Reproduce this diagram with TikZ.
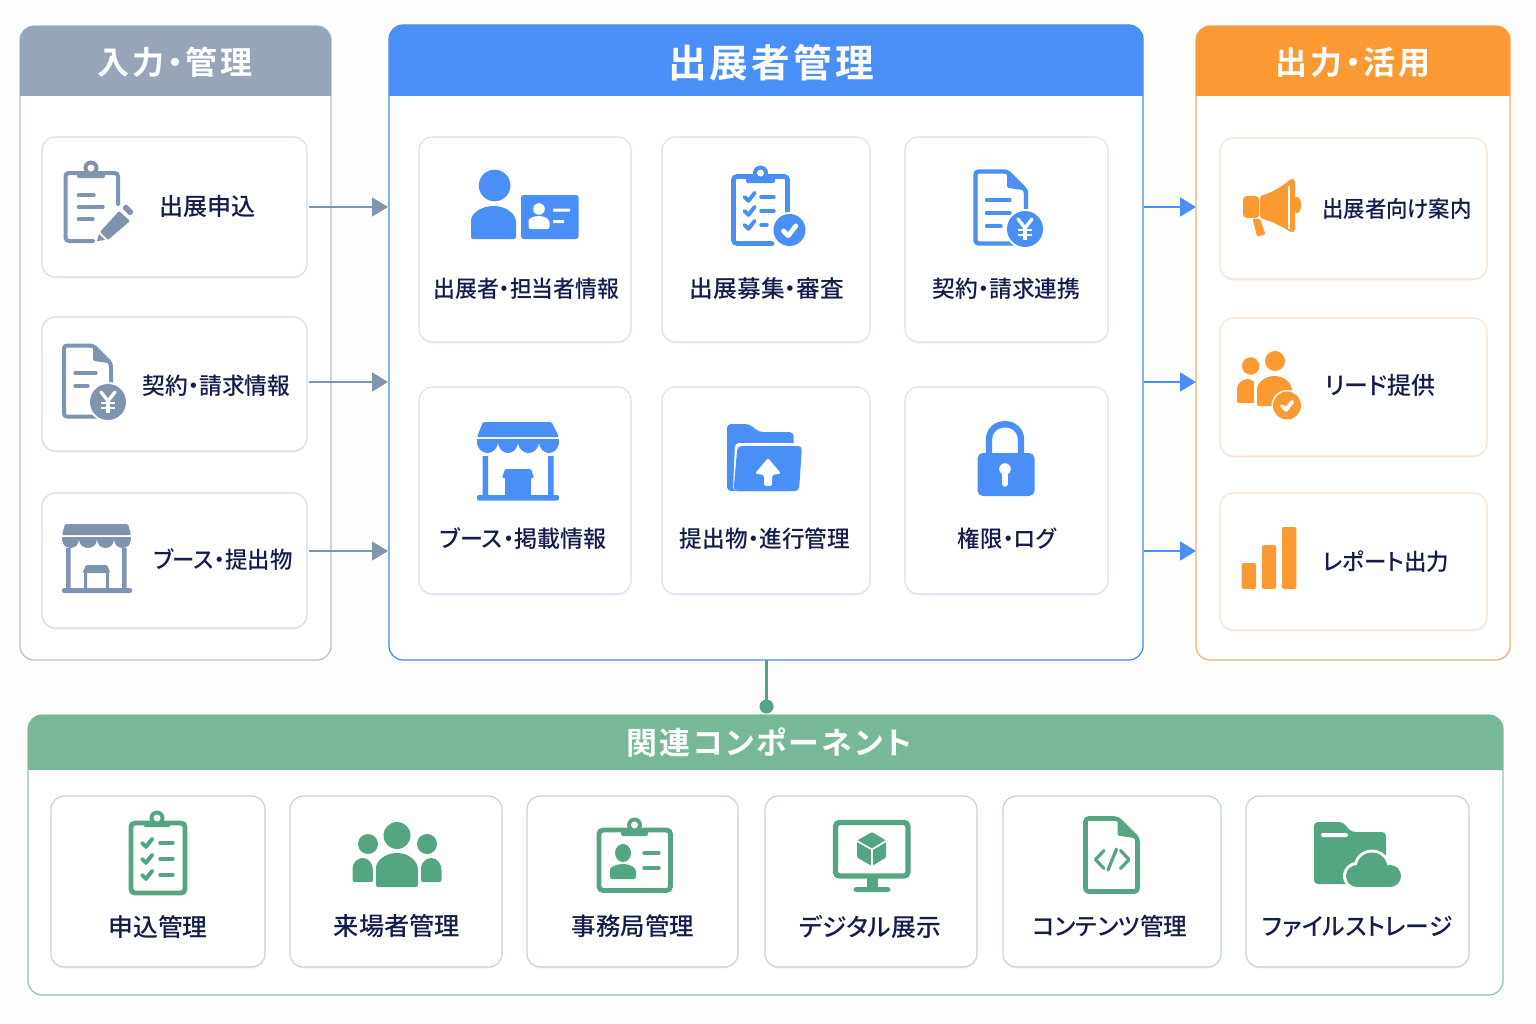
\documentclass[tikz,border=0pt]{standalone}
\usepackage{fontspec}
\usepackage{graphicx}
\usetikzlibrary{arrows.meta,shadows}
\setmainfont{Noto Sans CJK JP Medium}[RawFeature={+palt}]
\newfontfamily\jphead{Noto Sans CJK JP Bold}[RawFeature={+palt},LetterSpace=8]
\definecolor{bgc}{HTML}{FDFDFE}
\definecolor{navy}{HTML}{141C4A}
\definecolor{gr}{HTML}{7F94AF}
\definecolor{grh}{HTML}{98A5B9}
\definecolor{grb}{HTML}{B5BFD3}
\definecolor{grc}{HTML}{D3DAE8}
\definecolor{bl}{HTML}{4A8FF5}
\definecolor{blb}{HTML}{3F8AEC}
\definecolor{blc}{HTML}{D3E0F5}
\definecolor{og}{HTML}{FB9A33}
\definecolor{ogb}{HTML}{F2AE6C}
\definecolor{ogc}{HTML}{FBDFC8}
\definecolor{gn}{HTML}{54A582}
\definecolor{gnh}{HTML}{76B897}
\definecolor{gnb}{HTML}{8CC5AC}
\definecolor{gnc}{HTML}{BFD5CE}
\tikzset{
  panelbox/.style={draw,fill=white,rounded corners=10.5pt,line width=.9pt,inner sep=0pt},
  cardbox/.style={draw,fill=white,rounded corners=10pt,line width=.8pt,inner sep=0pt,
    drop shadow={shadow xshift=0pt,shadow yshift=-1.2pt,opacity=.05,fill=navy}},
  lab/.style={inner sep=0pt,text=navy,font=\fontsize{17.3}{20}\selectfont},
  headt/.style={inner sep=0pt,text=white},
  arrg/.style={draw=gr,line width=2.2pt,-{Triangle[length=12pt,width=14pt,fill=gr]}},
  arrb/.style={draw=bl,line width=2.2pt,-{Triangle[length=12pt,width=14pt,fill=bl]}},
  rl/.style={line cap=round,line join=round},
}
\newcommand\boxnode[6]{\node[#1,minimum width={(#4-#2)*0.75pt},minimum height={(#5-#3)*0.75pt}] (#6) at ({(#2+#4)/2},{(#3+#5)/2}) {};}
\newcommand\hdr[5]{\fill[#5] (#1,#4) -- (#1,#2+20) [rounded corners=10.5pt] -- (#1,#2) -- (#3,#2) -- (#3,#2+20) [sharp corners] -- (#3,#4) -- cycle;}
\newcommand\lb[6]{\node[lab] (#1) at ({#2},{#3+0.7}) {\scalebox{#4}[#5]{#6}};}
\newcommand\ckm[4]{\draw[#3,rl,line width=#4*0.42pt] ({#1-#4*.7},{#2}) -- ({#1-#4*.15},{#2+#4*.55}) -- ({#1+#4*.75},{#2-#4*.6});}
\newcommand\dome[5]{%
  \pgfmathsetmacro\dm{(#1+#3)/2}\pgfmathsetmacro\dy{#2+(#4-#2)*.5}%
  \pgfmathsetmacro\dcy{\dy-(\dy-#2)*.55}\pgfmathsetmacro\dal{\dm-(\dm-#1)*.55}\pgfmathsetmacro\dar{\dm+(#3-\dm)*.55}%
  \fill[#5] (#1,\dy) .. controls (#1,\dcy) and (\dal,#2) .. (\dm,#2) .. controls (\dar,#2) and (#3,\dcy) .. (#3,\dy) [rounded corners=1.5pt] -- (#3,#4) -- (#1,#4) -- (#1,\dy) -- cycle;}
\newcommand\docs[7]{%
  \draw[#6,line width=#7,rounded corners=2.2pt,line join=round] ({#3-#5},#2) -- (#1,#2) -- (#1,#4) -- (#3,#4) -- (#3,{#2+#5}) -- cycle;
  \fill[#6,rounded corners=1pt] ({#3-#5},#2) -- ({#3-#5},{#2+#5*.85}) -- (#3,{#2+#5}) -- cycle;}
\newcommand\yenc[4]{%
  \fill[white] (#1,#2) circle ({#3+2});
  \fill[#4] (#1,#2) circle (#3);
  \draw[white,line width=2.5pt,rl] ({#1-7},{#2-10}) -- (#1,{#2-1}) -- ({#1+7},{#2-10});
  \draw[white,line width=2.5pt] (#1,{#2-1}) -- (#1,{#2+11});
  \draw[white,line width=2pt] ({#1-7},{#2+1}) -- ({#1+7},{#2+1}) ({#1-7},{#2+6}) -- ({#1+7},{#2+6});}
\newcommand\clipb[6]{%
  \fill[#6] (#1,#2) circle (7.5);
  \fill[white] (#1,#2) circle (3.5);
  \fill[#6,rounded corners=1.5pt] ({#1-#3},{#2+#4}) -- ({#1-#3},{#2+#5}) -- ({#1+#3},{#2+#5}) -- ({#1+#3},{#2+#4}) -- cycle;}
\newcommand\scall[5]{%
  \foreach \i in {0,1,2,3}{%
    \pgfmathsetmacro\sa{#1+\i*(#2-#1)/4}\pgfmathsetmacro\sb{\sa+(#2-#1)/4}%
    \fill[#5] (\sa,#3) .. controls (\sa,{#3+#4*1.3}) and (\sb,{#3+#4*1.3}) .. (\sb,#3) -- cycle;}}
\begin{document}
\begin{tikzpicture}[x=0.75pt,y=-0.75pt]
\useasboundingbox (0,0) rectangle (1536,1024);
\fill[bgc] (0,0) rectangle (1536,1024);

% ---------- panels ----------
\boxnode{panelbox,draw=grb}{20}{26}{331}{660}{pin}
\boxnode{panelbox,draw=blb}{389}{25}{1143}{660}{pmain}
\boxnode{panelbox,draw=ogb}{1196}{26}{1510}{660}{pout}
\boxnode{panelbox,draw=gnb}{28}{715}{1503}{995}{pcomp}
\hdr{20}{26}{331}{96}{grh}
\hdr{389}{25}{1143}{96}{bl}
\hdr{1196}{26}{1510}{96}{og}
\hdr{28}{715}{1503}{770}{gnh}
\node[headt,font={\jphead\fontsize{24}{28}\selectfont}] (tin) at (175,62.5) {入力・管理};
\node[headt,font={\jphead\fontsize{29}{32}\selectfont}] (tmain) at (771,62.5) {出展者管理};
\node[headt,font={\jphead\fontsize{24}{28}\selectfont}] (tout) at (1353,62.5) {出力・活用};
\node[headt,font={\jphead\fontsize{23.2}{26}\selectfont}] (tcomp) at (769,742.5) {関連コンポーネント};

% ---------- cards ----------
\boxnode{cardbox,draw=grc}{42}{137}{307}{277}{ci1}
\boxnode{cardbox,draw=grc}{42}{317}{307}{451}{ci2}
\boxnode{cardbox,draw=grc}{42}{493}{307}{628}{ci3}
\boxnode{cardbox,draw=blc}{419}{137}{631}{342}{cm1}
\boxnode{cardbox,draw=blc}{662}{137}{870}{342}{cm2}
\boxnode{cardbox,draw=blc}{905}{137}{1108}{342}{cm3}
\boxnode{cardbox,draw=blc}{419}{387}{631}{594}{cm4}
\boxnode{cardbox,draw=blc}{662}{387}{870}{594}{cm5}
\boxnode{cardbox,draw=blc}{905}{387}{1108}{594}{cm6}
\boxnode{cardbox,draw=ogc}{1220}{138}{1487}{279}{co1}
\boxnode{cardbox,draw=ogc}{1220}{318}{1487}{456}{co2}
\boxnode{cardbox,draw=ogc}{1220}{493}{1487}{630}{co3}
\boxnode{cardbox,draw=gnc}{51}{796}{265}{967}{cc1}
\boxnode{cardbox,draw=gnc}{290}{796}{502}{967}{cc2}
\boxnode{cardbox,draw=gnc}{527}{796}{738}{967}{cc3}
\boxnode{cardbox,draw=gnc}{765}{796}{977}{967}{cc4}
\boxnode{cardbox,draw=gnc}{1003}{796}{1221}{967}{cc5}
\boxnode{cardbox,draw=gnc}{1246}{796}{1469}{967}{cc6}

% ---------- labels ----------
\lb{li1}{207.5}{206}{1.044}{1.04}{出展申込}
\lb{li2}{216.5}{385}{.987}{1}{契約・請求情報}
\lb{li3}{223}{559}{.972}{1}{ブース・提出物}
\lb{lm1}{526.5}{288}{.949}{1}{出展者・担当者情報}
\lb{lm2}{767}{288}{1.03}{1.02}{出展募集・審査}
\lb{lm3}{1006.5}{288}{.987}{1}{契約・請求連携}
\lb{lm4}{523.5}{538}{1}{1}{ブース・掲載情報}
\lb{lm5}{765}{538}{.983}{1}{提出物・進行管理}
\lb{lm6}{1007}{538}{.97}{1}{権限・ログ}
\lb{lo1}{1397}{208}{.93}{.98}{出展者向け案内}
\lb{lo2}{1380.5}{385}{1.04}{1.04}{リード提供}
\lb{lo3}{1386}{561}{.976}{1}{レポート出力}
\lb{lc1}{158}{926}{1.077}{1.07}{申込管理}
\lb{lc2}{397}{925}{1.095}{1.08}{来場者管理}
\lb{lc3}{633}{925}{1.06}{1.06}{事務局管理}
\lb{lc4}{870}{926}{1.077}{1.07}{デジタル展示}
\lb{lc5}{1110}{926}{1.026}{1.04}{コンテンツ管理}
\lb{lc6}{1357.5}{926}{1.033}{1.04}{ファイルストレージ}

% ---------- connectors ----------
\coordinate (ai1) at (309,207); \coordinate (bi1) at (388,207);
\coordinate (ai2) at (309,382); \coordinate (bi2) at (388,382);
\coordinate (ai3) at (309,551); \coordinate (bi3) at (388,551);
\coordinate (ao1) at (1144,207); \coordinate (bo1) at (1196,207);
\coordinate (ao2) at (1144,382); \coordinate (bo2) at (1196,382);
\coordinate (ao3) at (1144,551); \coordinate (bo3) at (1196,551);
\draw[arrg] (ai1) -- (bi1);
\draw[arrg] (ai2) -- (bi2);
\draw[arrg] (ai3) -- (bi3);
\draw[arrb] (ao1) -- (bo1);
\draw[arrb] (ao2) -- (bo2);
\draw[arrb] (ao3) -- (bo3);
\node[circle,fill=gn,inner sep=0pt,minimum size=10.5pt] (dot) at (766.5,706.5) {};
\draw[gn,line width=2pt] (766.5,660) -- (dot.center);

% ---------- icons: input ----------
\draw[gr,line width=3pt,rounded corners=2.5pt,line cap=round] (118,204) -- (118,173) -- (65.5,173) -- (65.5,241) -- (93,241);
\clipb{91}{168}{14}{4}{10}{gr}
\draw[gr,line width=2.6pt,rl] (78.5,195) -- (94,195) (78.5,207) -- (103,207) (78.5,219) -- (93,219);
\fill[gr,rounded corners=.8pt] (119,211) -- (130,221) -- (108,240) -- (100,232) -- cycle;
\fill[gr] (99,234) -- (97,241) -- (105,240) -- cycle;
\fill[gr,rounded corners=1.5pt] (122,208) -- (126,204) -- (134,212) -- (130,216) -- cycle;

\docs{64}{345.5}{111}{416.5}{18}{gr}{3pt}
\draw[gr,line width=2.4pt,rl] (75,373) -- (96,373) (75,386) -- (88,386);
\yenc{108}{402}{18}{gr}

\fill[gr,rounded corners=1pt] (65,524) -- (128,524) -- (131,535) -- (62,535) -- cycle;
\fill[gr] (62,537) rectangle (131,539);
\scall{62}{131}{539}{9}{gr}
\fill[gr] (66,548) rectangle (70.5,590) (122,548) rectangle (126.5,590);
\fill[gr,rounded corners=1.5pt] (62,588) rectangle (132,593);
\fill[gr,rounded corners=1pt] (86,565) -- (107,565) -- (110.5,573) -- (82.5,573) -- cycle;
\fill[gr] (84,573) rectangle (87,590) (106,573) rectangle (109,590);

% ---------- icons: main ----------
\fill[bl] (494.6,185.5) circle (15.8);
\dome{471}{206}{516}{239}{bl}
\fill[bl,rounded corners=2pt] (521,195) rectangle (578.6,239);
\fill[white] (539,209) circle (5.8);
\dome{528.5}{216}{549.5}{229}{white}
\fill[white] (553,208.5) rectangle (570,211.5) (553,220) rectangle (564,223);

\draw[bl,line width=3.5pt,rounded corners=2.5pt,line cap=round] (787.5,218) -- (787.5,176.5) -- (733.5,176.5) -- (733.5,243.5) -- (772,243.5);
\clipb{760.5}{173}{14.5}{4}{10}{bl}
\ckm{749.5}{197}{bl}{7}
\ckm{749.5}{211}{bl}{7}
\ckm{749.5}{225}{bl}{7}
\draw[bl,line width=2.6pt,rl] (761,197) -- (774,197) (761,211) -- (774,211) (761,225) -- (767,225);
\fill[white] (789.5,230) circle (18);
\fill[bl] (789.5,230) circle (16);
\ckm{789.5}{231}{white}{8.5}

\docs{975.5}{171.5}{1026}{243.5}{19}{bl}{3.3pt}
\draw[bl,line width=2.6pt,rl] (986.5,200) -- (1010,200) (986.5,213) -- (1010,213) (986.5,226) -- (1001,226);
\yenc{1025}{229}{18}{bl}

\fill[bl,rounded corners=1pt] (483,422) -- (551.5,422) -- (559,437) -- (477,437) -- cycle;
\fill[bl] (477,439) rectangle (559,441);
\scall{477}{559}{441}{12}{bl}
\fill[bl] (482.5,456) rectangle (488,497) (548,456) rectangle (553.5,497);
\fill[bl,rounded corners=1.5pt] (477,495) rectangle (559,500.5);
\fill[bl,rounded corners=1pt] (505,469) -- (531,469) -- (534,478) -- (502,478) -- cycle;
\fill[bl] (505,478) rectangle (531,496);

\fill[bl,rounded corners=3pt] (727,491) -- (727,424) -- (749,424) -- (759,432) -- (793.5,432) -- (793.5,491) -- cycle;
\fill[white,rounded corners=3pt] (733,491) -- (735,443) -- (796,443) -- (796,491) -- cycle;
\fill[bl,rounded corners=3pt] (733.5,491) -- (737.5,446) -- (802,446) -- (799,491) -- cycle;
\fill[white,rounded corners=1.2pt] (768,458) -- (781,473.5) -- (772,475) -- (772,486) -- (764,486) -- (764,475) -- (755,473.5) -- cycle;

\draw[bl,line width=4.8pt] (989,455) -- (989,440) .. controls (989,419) and (1021,419) .. (1021,440) -- (1021,455);
\fill[bl,rounded corners=4pt] (977.5,453) rectangle (1034.5,496);
\fill[white] (1005,469) circle (5.8);
\draw[white,line width=4pt,line cap=round] (1005,470) -- (1005,484);

% ---------- icons: output ----------
\fill[og,rounded corners=3pt] (1243,196) rectangle (1259.2,218);
\fill[og,rounded corners=1.5pt] (1260,196) .. controls (1271,193) and (1283,186) .. (1292,178) -- (1295,180) -- (1295,231) -- (1292,233) .. controls (1283,227) and (1271,221) .. (1260,218) -- cycle;
\draw[white,line width=.8pt] (1289,186) -- (1289,229);
\fill[og] (1297,205) circle[x radius=4.2,y radius=8];
\fill[og,rounded corners=1.5pt] (1252.5,218.5) -- (1260,218.5) -- (1265.5,234.5) -- (1257,236.5) -- cycle;

\fill[og] (1250.7,366) circle (8.7);
\dome{1237}{379}{1258}{403}{og}
\fill[white] (1275,361) circle (11.5);
\fill[og] (1275,361) circle (10);
\fill[white] (1254,376) rectangle (1257.5,404);
\dome{1257}{376}{1292}{406}{og}
\fill[white] (1287,405.5) circle (15.5);
\fill[og] (1287,405.5) circle (14);
\ckm{1287}{406}{white}{7}

\fill[og,rounded corners=1.5pt] (1241.7,563) rectangle (1256,589);
\fill[og,rounded corners=1.5pt] (1262,545) rectangle (1276,589);
\fill[og,rounded corners=1.5pt] (1282,527) rectangle (1296.3,589);

% ---------- icons: components ----------
\draw[gn,line width=3.6pt,rounded corners=3pt] (131,823) rectangle (185,893);
\clipb{157}{818}{13.5}{4}{9}{gn}
\ckm{147}{843}{gn}{7}
\ckm{147}{859}{gn}{7}
\ckm{147}{875}{gn}{7}
\draw[gn,line width=2.6pt,rl] (160,843) -- (173,843) (160,859) -- (173,859) (160,875) -- (173,875);

\fill[gn] (397,835.5) circle (13.5);
\fill[gn] (368,844) circle (10);
\fill[gn] (427,844) circle (10);
\dome{352.5}{858}{373}{882}{gn}
\dome{421}{858}{441.5}{882}{gn}
\fill[white] (373,854) rectangle (377,884);
\fill[white] (417,854) rectangle (421,884);
\dome{376}{853}{418}{887}{gn}

\draw[gn,line width=3.6pt,rounded corners=3pt] (599,830) rectangle (670.5,890.5);
\clipb{634.5}{825}{13.5}{4}{11}{gn}
\fill[gn] (623,853) circle[x radius=8,y radius=9];
\dome{610}{864}{636}{879}{gn}
\draw[gn,line width=2.6pt,rl] (644,853) -- (659,853) (644,868) -- (659,868);

\draw[gn,line width=4pt,rounded corners=3pt] (835.5,822.5) rectangle (908,876);
\fill[gn] (866.5,877) rectangle (877.5,889);
\fill[gn,rounded corners=2pt] (853.5,887) rectangle (890.5,892);
\fill[gn,rounded corners=1pt] (872,832) -- (886,840.5) -- (886,857.5) -- (872,866) -- (857,857.5) -- (857,840.5) -- cycle;
\draw[white,line width=1.2pt] (857,841) -- (872,849.5) -- (886,841) (872,849.5) -- (872,866);

\docs{1085.5}{818.5}{1137.5}{891.5}{20}{gn}{3.4pt}
\draw[gn,line width=2.4pt,rl] (1104,850.5) -- (1095.5,859.5) -- (1104,868.5) (1120.5,850.5) -- (1129,859.5) -- (1120.5,868.5) (1116.5,849) -- (1108,870);

\fill[gn,rounded corners=3pt] (1314,884) -- (1314,822) -- (1343,822) -- (1351,832) -- (1386,832) -- (1386,884) -- cycle;
\fill[white,rounded corners=1pt] (1321,833) rectangle (1348,837);
\fill[white] (1372,868) circle (18.5);
\fill[white] (1357,876) circle (14);
\fill[white] (1389,876) circle (14);
\fill[white] (1357,876) rectangle (1389,890.5);
\fill[gn] (1372,868) circle (15.5);
\fill[gn] (1357,876) circle (11);
\fill[gn] (1390,876) circle (11);
\fill[gn] (1357,876) rectangle (1390,887);
\end{tikzpicture}
\end{document}
